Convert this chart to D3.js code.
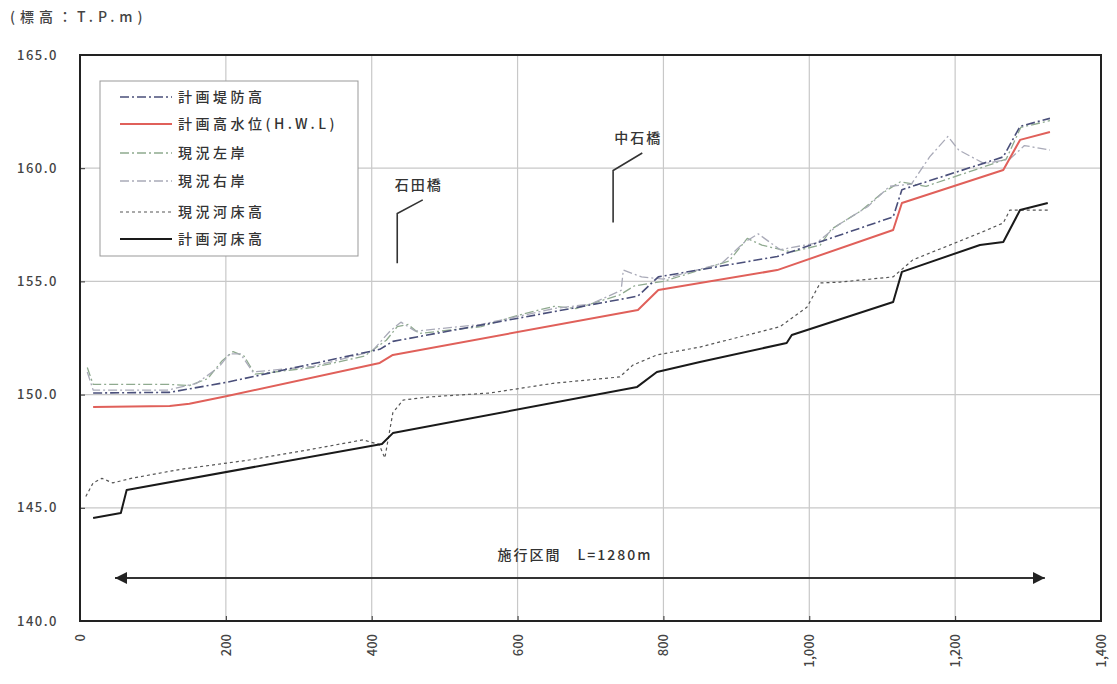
<!DOCTYPE html>
<html>
<head>
<meta charset="utf-8">
<script src="https://cdn.jsdelivr.net/npm/d3@7"></script>
<style>
  html, body { margin: 0; padding: 0; background: #fff; }
  svg { display: block; }
  text { font-family: "Noto Sans CJK JP", "Noto Sans", sans-serif; }
</style>
</head>
<body>
<svg id="chart" width="1117" height="684"></svg>
<script>
// 縦断図：追加距離 (m) と標高 (T.P.m)
const xTicks = [0, 200, 400, 600, 800, 1000, 1200, 1400];
const xTickLabels = ["0", "200", "400", "600", "800", "1,000", "1,200", "1,400"];
const yTicks = [140, 145, 150, 155, 160, 165];
const yTickLabels = ["140.0", "145.0", "150.0", "155.0", "160.0", "165.0"];

// 計画堤防高
const planLevee = [[18,150.07],[123,150.1],[202,150.55],[411,152.0],[429,152.35],[765,154.35],[793,155.2],
  [956,156.1],[1115,157.85],[1127,159.05],[1266,160.5],[1289,161.85],[1330,162.2]];
// 計画高水位 (H.W.L)
const planHWL = [[18,149.45],[123,149.5],[150,149.6],[202,149.94],[411,151.4],[429,151.75],[765,153.74],
  [793,154.62],[956,155.5],[1115,157.27],[1127,158.46],[1266,159.92],[1289,161.25],[1330,161.6]];
// 現況左岸
const leftBank = [[10,151.2],[18,150.45],[123,150.45],[150,150.4],[175,150.7],[195,151.5],[210,151.9],
  [225,151.7],[240,150.9],[320,151.2],[390,151.7],[420,152.4],[435,153.0],[450,153.1],[465,152.7],
  [550,153.0],[600,153.5],[650,153.9],[680,153.8],[740,154.4],[760,154.8],[800,155.0],[850,155.5],
  [890,155.9],[915,156.9],[935,156.6],[975,156.3],[1015,156.6],[1030,157.3],[1070,158.1],[1100,158.9],
  [1125,159.4],[1160,159.2],[1234,160.0],[1270,160.4],[1290,161.8],[1330,162.1]];
// 現況右岸
const rightBank = [[10,151.0],[18,150.2],[120,150.2],[160,150.5],[190,151.2],[205,151.8],[220,151.8],
  [237,151.0],[320,151.25],[400,151.9],[425,152.8],[440,153.2],[460,152.8],[550,153.1],[650,153.8],
  [700,154.0],[742,154.6],[745,155.5],[770,155.2],[800,155.1],[880,155.8],[910,156.7],[930,157.1],
  [960,156.4],[1010,156.7],[1040,157.5],[1080,158.3],[1110,159.2],[1140,159.3],[1165,160.5],
  [1190,161.4],[1205,160.8],[1240,160.2],[1275,160.4],[1295,161.0],[1330,160.8]];
// 現況河床高
const bedNow = [[8,145.5],[18,146.1],[30,146.3],[45,146.1],[70,146.3],[138,146.7],[230,147.1],
  [320,147.6],[388,148.0],[410,147.8],[418,147.2],[429,149.2],[443,149.76],[480,149.9],[562,150.07],
  [649,150.5],[740,150.78],[758,151.3],[791,151.75],[850,152.1],[960,153.0],[997,153.87],[1015,154.93],
  [1042,154.97],[1115,155.2],[1142,155.95],[1234,157.14],[1266,157.58],[1275,158.15],[1327,158.15]];
// 計画河床高
const bedPlan = [[18,144.55],[56,144.77],[64,145.79],[414,147.82],[429,148.3],[764,150.34],[791,151.0],
  [850,151.44],[969,152.28],[976,152.63],[1115,154.09],[1127,155.42],[1234,156.61],[1266,156.74],
  [1289,158.15],[1327,158.46]];

const bridges = [
  { name: "石田橋", m: 435, low: 155.8, kink: 158.0, tipM: 470, tipElev: 158.6 },
  { name: "中石橋", m: 731, low: 157.6, kink: 159.9, tipM: 771, tipElev: 160.67 }
];
const section = { label: "施行区間　L=1280m", from: 48, to: 1323, elev: 141.9 };

const series = [
  { name: "計画堤防高",        data: planLevee, color: "#4a4f7a", width: 1.6, dash: "9,3,2,3" },
  { name: "計画高水位(H.W.L)", data: planHWL,   color: "#e0605a", width: 2.0, dash: null },
  { name: "現況左岸",          data: leftBank,  color: "#8faa8f", width: 1.3, dash: "9,3,2,3" },
  { name: "現況右岸",          data: rightBank, color: "#a9aab8", width: 1.3, dash: "9,3,2,3" },
  { name: "現況河床高",        data: bedNow,    color: "#555555", width: 1.2, dash: "3,3" },
  { name: "計画河床高",        data: bedPlan,   color: "#1a1a1a", width: 2.0, dash: null }
];

const svg = d3.select("#chart");
const x = d3.scaleLinear().domain([0, 1400]).range([80, 1101]);
const y = d3.scaleLinear().domain([140, 165]).range([621, 55]);

// グリッド
const grid = svg.append("g");
grid.selectAll("line.v").data(xTicks.slice(1, -1)).join("line")
  .attr("x1", d => x(d)).attr("x2", d => x(d)).attr("y1", y(165)).attr("y2", y(140))
  .attr("stroke", "#c8c8c8").attr("stroke-width", 1.2);
grid.selectAll("line.h").data(yTicks.slice(1, -1)).join("line")
  .attr("x1", x(0)).attr("x2", x(1400)).attr("y1", d => y(d)).attr("y2", d => y(d))
  .attr("stroke", "#c8c8c8").attr("stroke-width", 1.2);

// 軸
const xAxis = svg.append("g").attr("transform", `translate(0,${y(140)})`)
  .call(d3.axisBottom(x).tickValues(xTicks).tickSize(-5).tickFormat((d, i) => xTickLabels[i]));
xAxis.select(".domain").remove();
xAxis.selectAll(".tick line").attr("stroke", "#333");
xAxis.selectAll(".tick text")
  .attr("transform", "rotate(-90)")
  .attr("text-anchor", "end")
  .attr("x", -13).attr("y", 0).attr("dy", "0.35em")
  .attr("font-size", 13).attr("font-weight", 500).attr("fill", "#444");

const yAxis = svg.append("g").attr("transform", `translate(${x(0)},0)`)
  .call(d3.axisLeft(y).tickValues(yTicks).tickSize(-5).tickFormat((d, i) => yTickLabels[i]));
yAxis.select(".domain").remove();
yAxis.selectAll(".tick line").attr("stroke", "#333");
yAxis.selectAll(".tick text").attr("x", -22).attr("font-size", 13).attr("font-weight", 500)
  .attr("letter-spacing", 1.5).attr("fill", "#444");

// 外枠
svg.append("rect").attr("x", x(0)).attr("y", y(165))
  .attr("width", x(1400) - x(0)).attr("height", y(140) - y(165))
  .attr("fill", "none").attr("stroke", "#222").attr("stroke-width", 2);

svg.append("text").attr("x", 10).attr("y", 22).attr("font-size", 14).attr("font-weight", 500)
  .attr("letter-spacing", 5).attr("fill", "#444")
  .text("(標高：T.P.m)");

// 縦断線
const line = d3.line().x(d => x(d[0])).y(d => y(d[1]));
const drawOrder = [2, 3, 4, 0, 1, 5];
svg.append("g").selectAll("path").data(drawOrder.map(i => series[i])).join("path")
  .attr("d", d => line(d.data))
  .attr("fill", "none")
  .attr("stroke", d => d.color)
  .attr("stroke-width", d => d.width)
  .attr("stroke-dasharray", d => d.dash)
  .attr("stroke-linejoin", "round");

// 橋梁位置
const bg = svg.append("g").selectAll("g").data(bridges).join("g");
bg.append("path")
  .attr("d", d => `M${x(d.m)},${y(d.low)}L${x(d.m)},${y(d.kink)}L${x(d.tipM)},${y(d.tipElev)}`)
  .attr("fill", "none").attr("stroke", "#333").attr("stroke-width", 1.6);
bg.append("text")
  .attr("x", d => x(d.tipM) - 4).attr("y", d => y(d.tipElev) - 10)
  .attr("text-anchor", "middle").attr("font-size", 14).attr("font-weight", 500)
  .attr("letter-spacing", 2).attr("fill", "#333")
  .text(d => d.name);

// 施行区間
const defs = svg.append("defs");
defs.append("marker").attr("id", "arrowEnd").attr("viewBox", "0 0 10 10")
  .attr("refX", 10).attr("refY", 5).attr("markerWidth", 6).attr("markerHeight", 6)
  .attr("orient", "auto-start-reverse")
  .append("path").attr("d", "M0,0L10,5L0,10Z").attr("fill", "#222");
svg.append("line")
  .attr("x1", x(section.from)).attr("x2", x(section.to))
  .attr("y1", y(section.elev)).attr("y2", y(section.elev))
  .attr("stroke", "#333").attr("stroke-width", 2)
  .attr("marker-start", "url(#arrowEnd)").attr("marker-end", "url(#arrowEnd)");
svg.append("text")
  .attr("x", 575).attr("y", y(section.elev) - 18)
  .attr("text-anchor", "middle").attr("font-size", 14).attr("font-weight", 500)
  .attr("letter-spacing", 2).attr("fill", "#333")
  .text(section.label);

// 凡例
const lg = svg.append("g");
lg.append("rect").attr("x", 100).attr("y", 81).attr("width", 258).attr("height", 175)
  .attr("fill", "#fff").attr("stroke", "#999").attr("stroke-width", 1);
const rows = [97, 124, 153, 181, 212, 239];
const item = lg.selectAll("g.item").data(series).join("g")
  .attr("transform", (d, i) => `translate(0,${rows[i]})`);
item.append("line").attr("x1", 120).attr("x2", 172).attr("y1", 0).attr("y2", 0)
  .attr("stroke", d => d.color).attr("stroke-width", d => d.width)
  .attr("stroke-dasharray", d => d.dash);
item.append("text").attr("x", 178).attr("y", 0).attr("dy", "0.35em")
  .attr("font-size", 14).attr("font-weight", 500).attr("letter-spacing", 3.5)
  .attr("fill", "#333").text(d => d.name);
</script>
</body>
</html>
